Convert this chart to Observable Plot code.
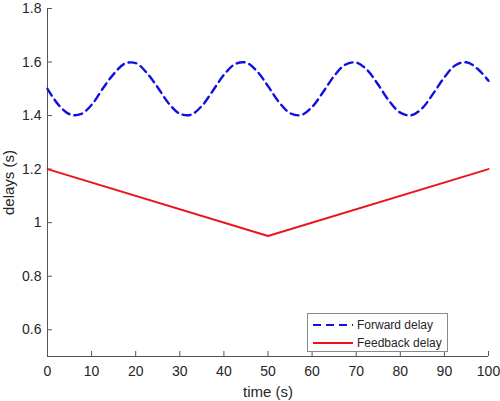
<!DOCTYPE html>
<html>
<head>
<meta charset="utf-8">
<script src="https://cdn.jsdelivr.net/npm/d3@7"></script>
<script src="https://cdn.jsdelivr.net/npm/@observablehq/plot@0.6"></script>
<style>
  body { margin: 0; background: #fff; font-family: "Liberation Sans", Arial, sans-serif; }
  #chart-container { position: relative; width: 500px; height: 401px; }
  #legend {
    position: absolute; left: 307px; top: 313px; width: 139px; height: 37px;
    border: 1px solid #8a8a8a; background: #fff; font-size: 12px; color: #262626;
  }
  #legend .row { position: absolute; left: 4px; height: 16px; display: flex; align-items: center; white-space: nowrap; }
  #legend svg { margin-right: 3px; }
</style>
</head>
<body>
<div id="chart-container">
  <div id="legend"></div>
</div>
<script>
// time axis samples (s)
const forwardTime = d3.range(0, 101, 2.5);
// forward delay
const forwardDelay = [
  1.50, 1.44, 1.405, 1.405, 1.44, 1.50, 1.555, 1.594, 1.596, 1.56,
  1.505, 1.445, 1.407, 1.403, 1.436, 1.493, 1.552, 1.592, 1.598, 1.566,
  1.51, 1.45, 1.409, 1.402, 1.432, 1.488, 1.548, 1.59, 1.598, 1.57,
  1.515, 1.454, 1.411, 1.401, 1.428, 1.483, 1.543, 1.588, 1.599, 1.575,
  1.53
];
// feedback delay corners
const feedbackTime = [0, 50, 100];
const feedbackDelay = [1.2, 0.95, 1.2];

const xTicks = [0, 10, 20, 30, 40, 50, 60, 70, 80, 90, 100];
const yTicks = [0.6, 0.8, 1, 1.2, 1.4, 1.6, 1.8];
const xDomain = [0, 100];
const yDomain = [0.5, 1.8];

const forward = forwardTime.map((t, i) => ({t, v: forwardDelay[i]}));
const feedback = feedbackTime.map((t, i) => ({t, v: feedbackDelay[i]}));

const blue = "#1010e0";
const red = "#e8161b";
const axisColor = "#555";

const W = 500, H = 401;
const mL = 47, mR = 12, mT = 8, mB = 45;

const plot = Plot.plot({
  width: W,
  height: H,
  marginLeft: mL,
  marginRight: mR,
  marginTop: mT,
  marginBottom: mB,
  style: {fontFamily: "'Liberation Sans', Arial, sans-serif", fontSize: "14px", color: "#262626", background: "#fff"},
  x: {domain: xDomain},
  y: {domain: yDomain},
  marks: [
    Plot.axisX(xTicks, {tickSize: 0, tickPadding: 10, fontSize: 14, label: null}),
    Plot.axisY(yTicks, {tickSize: 0, tickPadding: 6, fontSize: 14, label: null, tickFormat: d => String(d)}),
    Plot.axisX({ticks: [], label: "time (s)", labelAnchor: "center", labelOffset: 40, labelArrow: "none", fontSize: 15}),
    Plot.axisY({ticks: [], label: "delays (s)", labelAnchor: "center", labelOffset: 44, labelArrow: "none", fontSize: 15}),
    // inward ticks
    Plot.tickX(xTicks, {x: d => d, stroke: axisColor, insetTop: H - mT - mB - 5}),
    Plot.tickY(yTicks, {y: d => d, stroke: axisColor, insetRight: W - mL - mR - 5}),
    Plot.ruleX([xDomain[0]], {stroke: axisColor}),
    Plot.ruleY([yDomain[0]], {stroke: axisColor}),
    Plot.line(forward, {x: "t", y: "v", curve: "catmull-rom", stroke: blue, strokeWidth: 2.4, strokeDasharray: "8,5"}),
    Plot.line(feedback, {x: "t", y: "v", stroke: red, strokeWidth: 2})
  ]
});

document.getElementById('chart-container').prepend(plot);

// legend box sitting inside the axes, lower right
const legend = document.getElementById('legend');
const entries = [
  {name: "Forward delay", color: blue, dash: "8,5"},
  {name: "Feedback delay", color: red, dash: null}
];
entries.forEach((e, i) => {
  const row = document.createElement('div');
  row.className = 'row';
  row.style.top = (3 + i * 18) + 'px';
  row.innerHTML =
    `<svg width="42" height="6"><line x1="1" x2="41" y1="3" y2="3" stroke="${e.color}" stroke-width="2"` +
    (e.dash ? ` stroke-dasharray="${e.dash}"` : '') + `/></svg><span>${e.name}</span>`;
  legend.appendChild(row);
});
</script>
</body>
</html>
